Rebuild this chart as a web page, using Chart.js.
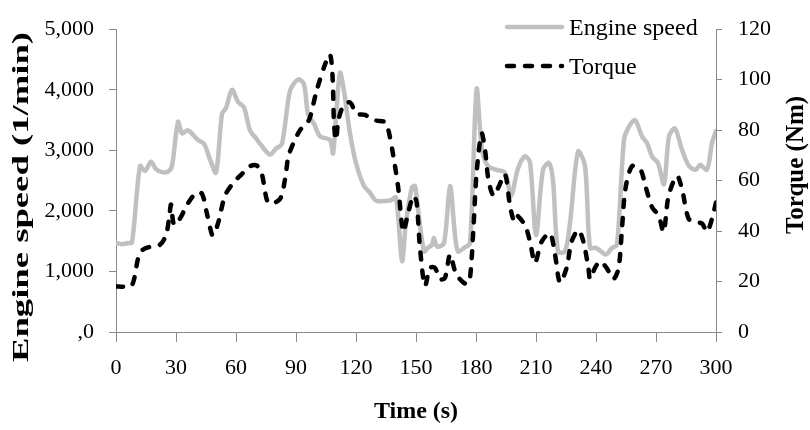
<!DOCTYPE html>
<html><head><meta charset="utf-8">
<script src="https://cdn.jsdelivr.net/npm/chart.js@4.4.0/dist/chart.umd.min.js"></script>
<style>html,body{margin:0;padding:0;background:#fff;}#wrap{width:810px;height:430px;position:relative;}</style>
</head><body><div id="wrap"><canvas id="c"></canvas></div>
<script>
// ---- data ----
const engineTime = [0,3,6,8,12,14.5,17.5,20,23,26,28,31,33,36,41,44,47,50,53,55,58,61,64,67,70,72,77,80,83,87,91,94,96,99,102,107,108.5,110,112,114,117,120,124,127,130,137,140,143,145,148,149.5,151,154,156,158,159,160.5,164,167,169.5,171,174,177,180.3,183,186,190,194.5,197.5,201,204.5,207,210,213.5,216.5,218.5,221,224.5,227,231,234.5,237,240,245,248,250.5,254,256.5,259.5,263,265.5,268,271,274,276.5,279.5,283,286.5,290,292,295.5,298,300];
const engineSpeed = [1470,1450,1470,1480,2740,2660,2810,2690,2640,2650,2740,3470,3280,3330,3170,3110,2850,2630,3600,3700,4000,3800,3710,3330,3200,3110,2930,3030,3110,3980,4170,4090,3600,3440,3230,3170,2950,3550,4280,3980,3280,2790,2410,2300,2170,2170,2220,1170,1820,2390,2410,2030,1330,1390,1440,1550,1410,1470,2410,1600,1330,1390,1470,4010,3010,2740,2680,2630,2250,2700,2900,2800,1600,2680,2790,2500,1330,1330,1800,2980,2740,1390,1390,1280,1390,1440,3170,3390,3500,3230,3120,2900,2790,2440,3230,3360,3010,2740,2680,2760,2680,3120,3320];
const torqueTime = [0,4,8,11,12.5,16,22,25,26.7,27.5,29,31.5,36,40.3,43,45.3,48,49,51.2,54.5,58.7,62.8,67,70.3,72.8,75.3,77,82,84.5,86.2,88.7,92,95.3,97,100.3,104.5,107,108.3,109,110,111.2,113.7,117,120.3,124.5,129.5,134.5,136.2,138.7,141.2,142.8,143.7,146.2,148.7,150.3,152,154.5,157,159.5,162,164.5,167,169.5,172,175.3,177,178.7,180.3,182.8,184.5,186.2,188.7,191.2,194.5,197,199,200.3,204.5,207,209.5,212.8,217,219.5,222,225.3,227.8,231.2,233.7,236.2,237,239.5,242,245.3,248.7,251.3,253,254.7,258,262.2,264.7,268,271.3,273.8,276.3,280.5,283,286.3,289.7,293,295.5,298,300];
const torqueValue = [18,18,18.5,29,32,33.5,34.6,38.5,46,50.5,42.5,44.3,51,55.3,54.8,47.5,38.5,38.5,43.6,54,59.2,62.5,65.7,66,63,52.7,50.8,52.7,60.5,69.6,74.8,80,82.6,85,95.6,106,110,100.8,82.6,76.1,83.9,89.7,91,86.5,86,83.9,83.2,80,69.6,56.6,43.6,39.7,47.5,54,51.4,33.2,18.3,25.4,25.4,20.9,21.5,30.7,24.2,20.9,19,21.5,41,63,78.7,72.2,60.5,54,57.3,62.5,50,44,46.2,42.3,35.8,27.4,35.8,39.1,30.7,19.6,25.4,35.8,40.4,35.8,25.4,21,25.4,28,25.4,21,25.4,41,56.6,65.7,64.4,57.9,49.5,46.2,39.7,54,61.8,56.6,44.9,43.6,43,39.7,44.9,51.4];
const timeTicks = [0,30,60,90,120,150,180,210,240,270,300];
const speedTickLabels = [',0','1,000','2,000','3,000','4,000','5,000'];
const torqueTicks = [0,20,40,60,80,100,120];
const seriesNames = ['Engine speed','Torque'];
const xTitle = 'Time (s)';
const leftTitle = 'Engine speed (1/min)';
const rightTitle = 'Torque (Nm)';

const SERIF = '"Liberation Serif","Times New Roman",serif';
const AXIS = '#888888';
const GRAY = '#c0c0c0';

const pts = (xs, ys) => xs.map((x, i) => ({x: x, y: ys[i]}));

const titlesAndLegend = {
  id: 'titlesAndLegend',
  afterDraw(chart) {
    const ctx = chart.ctx;
    ctx.save();
    ctx.fillStyle = '#000';
    ctx.font = 'bold 25px ' + SERIF;
    ctx.textAlign = 'center';
    ctx.textBaseline = 'middle';
    ctx.save();
    ctx.translate(22, 197);
    ctx.rotate(-Math.PI / 2);
    const w = ctx.measureText(leftTitle).width;
    ctx.scale(330 / w, 0.92);
    ctx.fillText(leftTitle, 0, 0);
    ctx.restore();
    ctx.save();
    ctx.translate(797, 165);
    ctx.rotate(-Math.PI / 2);
    ctx.fillText(rightTitle, 0, 0);
    ctx.restore();
    ctx.font = 'bold 24px ' + SERIF;
    ctx.fillText(xTitle, 416, 412);
    const ds = chart.data.datasets;
    const rows = [{d: ds[0], y: 27}, {d: ds[1], y: 66}];
    ctx.font = '24px ' + SERIF;
    ctx.textAlign = 'left';
    ctx.textBaseline = 'alphabetic';
    rows.forEach(r => {
      ctx.save();
      ctx.strokeStyle = r.d.borderColor;
      ctx.lineWidth = r.d.borderWidth;
      ctx.lineCap = r.d.borderCapStyle || 'butt';
      ctx.setLineDash(r.d.borderDash || []);
      ctx.beginPath();
      ctx.moveTo(507, r.y);
      ctx.lineTo(562, r.y);
      ctx.stroke();
      ctx.restore();
      ctx.fillText(r.d.label, 569, r.y + 8);
    });
    ctx.restore();
  }
};

new Chart(document.getElementById('c'), {
  type: 'line',
  data: {
    datasets: [
      {
        label: seriesNames[0],
        data: pts(engineTime, engineSpeed),
        yAxisID: 'y',
        borderColor: GRAY,
        borderWidth: 4.5,
        borderCapStyle: 'round',
        borderJoinStyle: 'round',
        pointRadius: 0,
        tension: 0.3,
        fill: false,
        order: 1
      },
      {
        label: seriesNames[1],
        data: pts(torqueTime, torqueValue),
        yAxisID: 'y1',
        borderColor: '#000000',
        borderWidth: 4.5,
        borderDash: [7, 11],
        borderCapStyle: 'round',
        borderJoinStyle: 'round',
        pointRadius: 0,
        tension: 0.3,
        fill: false,
        order: 0
      }
    ]
  },
  options: {
    responsive: true,
    maintainAspectRatio: false,
    animation: false,
    events: [],
    layout: {padding: {top: 24, left: 0, right: 0, bottom: 0}},
    plugins: {legend: {display: false}, tooltip: {enabled: false}, title: {display: false}},
    scales: {
      x: {
        type: 'linear',
        min: timeTicks[0],
        max: timeTicks[timeTicks.length - 1],
        afterBuildTicks: s => { s.ticks = timeTicks.map(v => ({value: v})); },
        ticks: {font: {family: SERIF, size: 22}, color: '#000', padding: 13, maxRotation: 0, autoSkip: false},
        grid: {display: true, drawOnChartArea: false, drawTicks: true, tickLength: 10, color: AXIS},
        border: {display: true, color: AXIS, width: 1},
        afterFit: s => { s.height = 98; }
      },
      y: {
        type: 'linear',
        position: 'left',
        min: 0,
        max: 5000,
        afterBuildTicks: s => { s.ticks = speedTickLabels.map((t, i) => ({value: i * 1000})); },
        ticks: {font: {family: SERIF, size: 22}, color: '#000', padding: 15,
                callback: (v, i) => speedTickLabels[i]},
        grid: {display: true, drawOnChartArea: false, drawTicks: true, tickLength: 7, color: AXIS},
        border: {display: true, color: AXIS, width: 1},
        afterFit: s => { s.width = 116; }
      },
      y1: {
        type: 'linear',
        position: 'right',
        min: torqueTicks[0],
        max: torqueTicks[torqueTicks.length - 1],
        afterBuildTicks: s => { s.ticks = torqueTicks.map(v => ({value: v})); },
        ticks: {font: {family: SERIF, size: 22}, color: '#000', padding: 16},
        grid: {display: true, drawOnChartArea: false, drawTicks: true, tickLength: 6, color: AXIS},
        border: {display: true, color: AXIS, width: 1},
        afterFit: s => { s.width = 94; }
      }
    }
  },
  plugins: [titlesAndLegend]
});
</script>
</body></html>
